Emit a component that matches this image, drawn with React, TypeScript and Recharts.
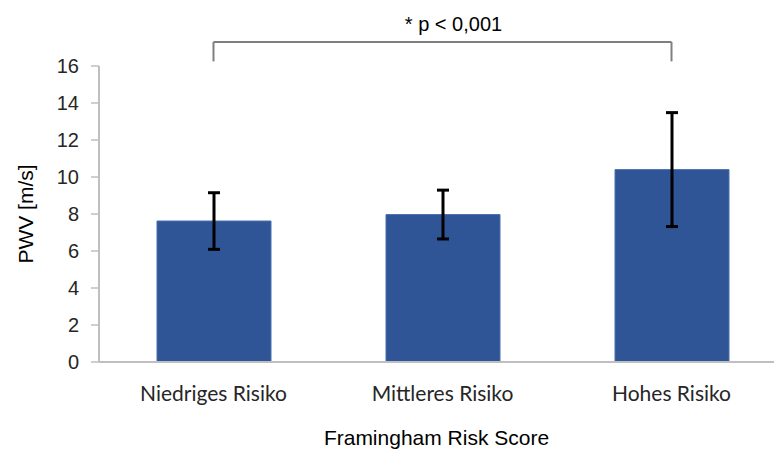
import { Bar, BarChart, ErrorBar, Label, ReferenceLine, XAxis, YAxis } from "recharts";

const categories = ["Niedriges Risiko", "Mittleres Risiko", "Hohes Risiko"];
const pwvMean = [7.62, 7.97, 10.4];
const pwvSd = [1.53, 1.32, 3.08];
const yTicks = [0, 2, 4, 6, 8, 10, 12, 14, 16];

// significance bracket between the low and high risk groups
const bracketTop = 17.3;
const bracketFoot = 16.25;
const significance = "* p < 0,001";

const data = categories.map((name, i) => ({ name, pwv: pwvMean[i], sd: pwvSd[i] }));

const axisGray = "#bfbfbf";
const arial = "'Liberation Sans', Arial, sans-serif";

export default function App() {
  const first = categories[0];
  const last = categories[categories.length - 1];
  return (
    <div style={{ position: "absolute", left: 0, top: 0, width: 774, height: 450, overflow: "hidden", background: "#fff" }}>
      <BarChart width={800} height={450} data={data} margin={{ top: 66, right: 14, bottom: 0, left: 0 }}>
        <XAxis
          dataKey="name"
          height={88}
          tickLine={false}
          tickMargin={18}
          axisLine={{ stroke: axisGray, strokeWidth: 2 }}
          tick={{ fill: "#262626", fontSize: 21, fontFamily: "Lato, sans-serif" }}
        >
          <Label
            value="Framingham Risk Score"
            position="insideBottom"
            offset={5}
            dx={-6}
            style={{ fill: "#000", fontSize: 21, fontFamily: arial }}
          />
        </XAxis>
        <YAxis
          domain={[0, 16]}
          ticks={yTicks}
          width={99}
          tickSize={8}
          tickMargin={12}
          interval={0}
          tickLine={{ stroke: axisGray, strokeWidth: 1.5 }}
          axisLine={{ stroke: axisGray, strokeWidth: 2 }}
          tick={{ fill: "#262626", fontSize: 20, fontFamily: arial }}
        >
          <Label
            value="PWV [m/s]"
            angle={-90}
            position="center"
            dx={-24}
            style={{ fill: "#000", fontSize: 21, fontFamily: arial, textAnchor: "middle" }}
          />
        </YAxis>
        <Bar dataKey="pwv" fill="#2f5597" stroke="#4a6fb3" strokeWidth={1} barSize={114} isAnimationActive={false}>
          <ErrorBar dataKey="sd" width={6} stroke="#000" strokeWidth={3} isAnimationActive={false} />
        </Bar>
        <ReferenceLine
          ifOverflow="visible"
          stroke="#7f7f7f"
          strokeWidth={2}
          segment={[
            { x: first, y: bracketFoot },
            { x: first, y: bracketTop },
          ]}
        />
        <ReferenceLine
          ifOverflow="visible"
          stroke="#7f7f7f"
          strokeWidth={2}
          segment={[
            { x: last, y: bracketFoot },
            { x: last, y: bracketTop },
          ]}
        />
        <ReferenceLine
          ifOverflow="visible"
          stroke="#7f7f7f"
          strokeWidth={2}
          segment={[
            { x: first, y: bracketTop },
            { x: last, y: bracketTop },
          ]}
        >
          <Label
            value={significance}
            position="top"
            offset={11}
            dx={11}
            style={{ fill: "#000", fontSize: 20, fontFamily: arial }}
          />
        </ReferenceLine>
      </BarChart>
    </div>
  );
}
